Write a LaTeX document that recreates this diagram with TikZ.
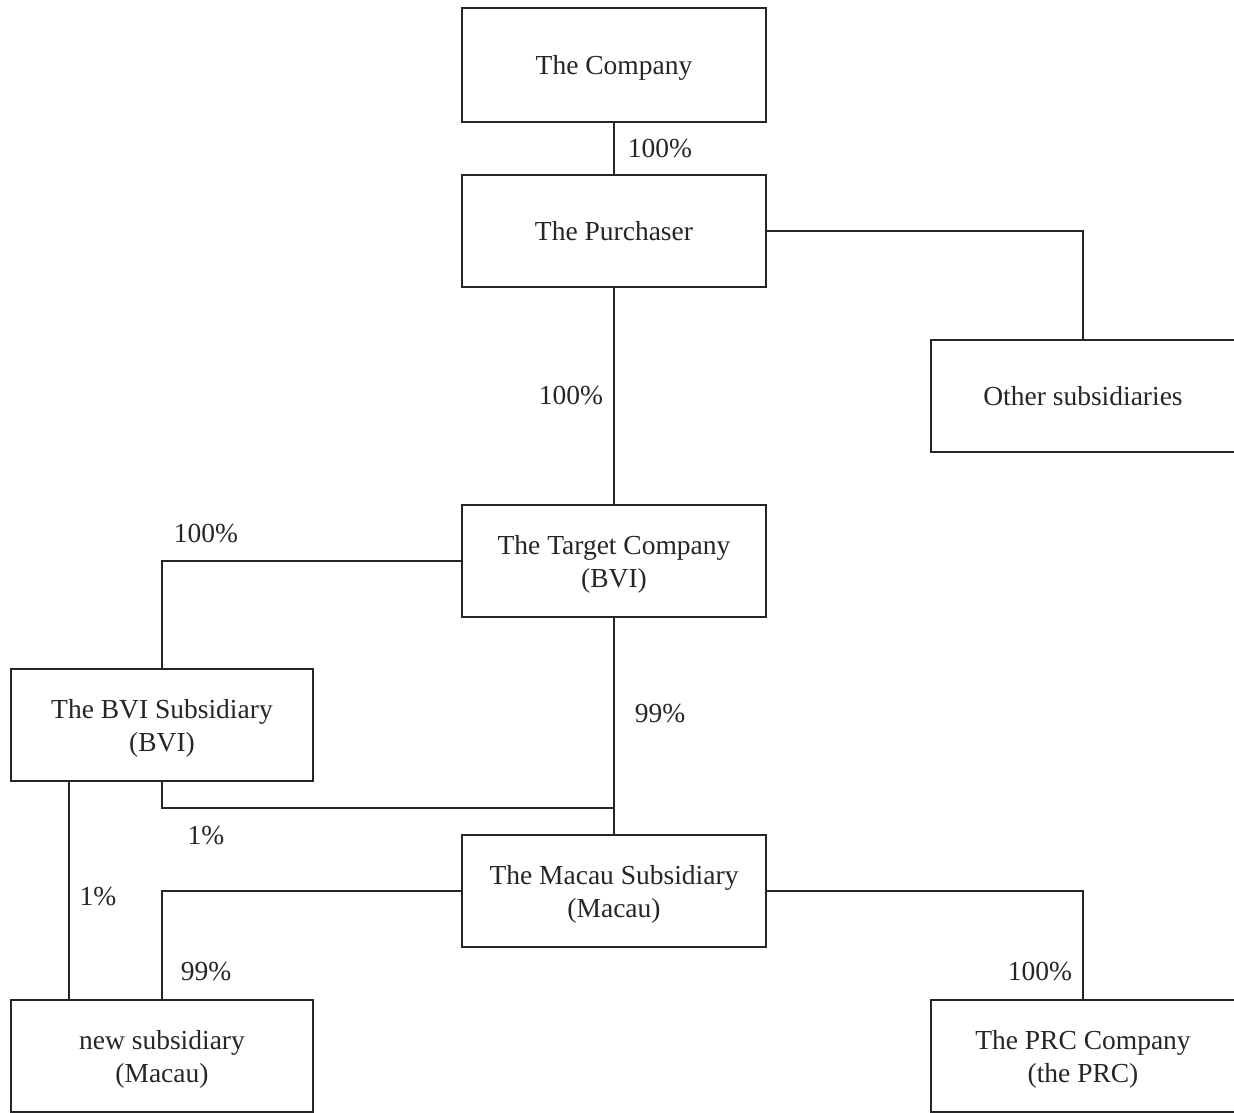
\documentclass[tikz,border=0pt]{standalone}
\usepackage{fontspec}
\setmainfont{Liberation Serif}
\definecolor{ink}{HTML}{262626}
\newcommand\toprl{\rule{0pt}{25pt}}
\begin{document}
\begin{tikzpicture}[x=1pt,y=-1pt,
  box/.style={draw=ink,line width=2pt,minimum width=304pt,minimum height=112pt,
    align=center,inner sep=0pt,text=ink,font=\fontsize{27.5}{33}\selectfont},
  pct/.style={text=ink,inner sep=0pt,font=\fontsize{27.5}{33}\selectfont},
  conn/.style={draw=ink,line width=2pt}]
\clip (0,0) rectangle (1234,1113);
\useasboundingbox (0,0) rectangle (1234,1113);
\fill[white] (0,0) rectangle (1234,1113);
\node[box,minimum height=114pt] (company) at (614,65) {\toprl The Company};
\node[box] (purch) at (614,231) {The Purchaser};
\node[box] (other) at (1083,396) {Other subsidiaries};
\node[box] (target) at (614,561) {\toprl The Target Company\\(BVI)};
\node[box,minimum width=302pt] (bvi) at (162,725) {\toprl The BVI Subsidiary\\(BVI)};
\node[box] (macau) at (614,891) {\toprl The Macau Subsidiary\\(Macau)};
\node[box,minimum width=302pt] (newsub) at (162,1056) {\toprl new subsidiary\\(Macau)};
\node[box] (prc) at (1083,1056) {\toprl The PRC Company\\(the PRC)};
\coordinate (j) at (614,808);
\draw[conn] (company.south) -- (purch.north);
\draw[conn] (purch.east) -| (other.north);
\draw[conn] (purch.south) -- (target.north);
\draw[conn] (target.west) -| (bvi.north);
\draw[conn] (target.south) -- (macau.north);
\draw[conn] (bvi.south) |- (j);
\draw[conn] ([xshift=-93pt]bvi.south) -- ([xshift=-93pt]newsub.north);
\draw[conn] (macau.west) -| (newsub.north);
\draw[conn] (macau.east) -| (prc.north);
\node[pct] (p1) at (660,149) {100\%};
\node[pct] (p2) at (571,396) {100\%};
\node[pct] (p3) at (206,534) {100\%};
\node[pct] (p4) at (660,714) {99\%};
\node[pct] (p5) at (206,836) {1\%};
\node[pct] (p6) at (98,897) {1\%};
\node[pct] (p7) at (206,972) {99\%};
\node[pct] (p8) at (1040,972) {100\%};
\end{tikzpicture}
\end{document}
